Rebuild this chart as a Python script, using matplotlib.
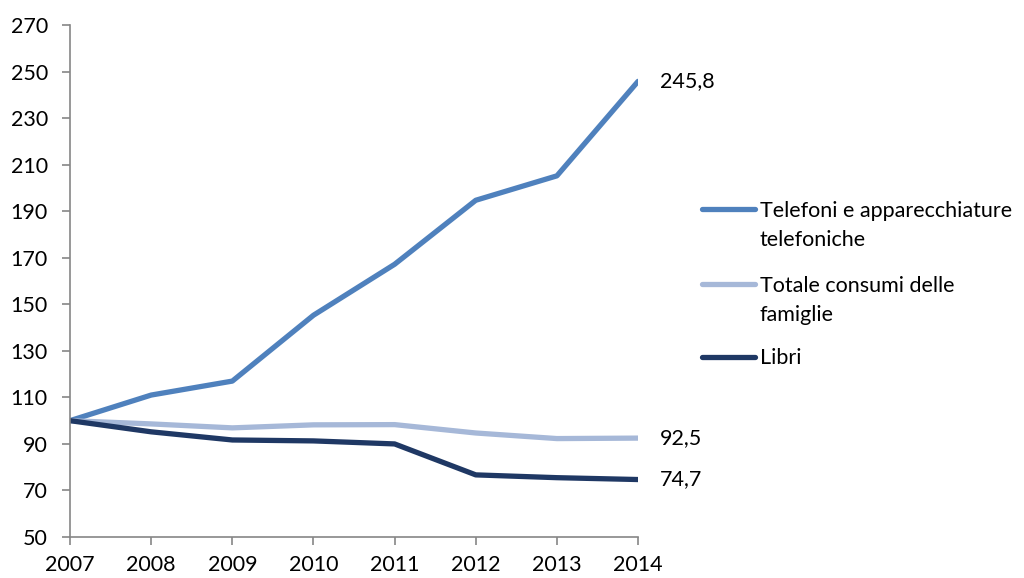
import matplotlib.pyplot as plt
from matplotlib.lines import Line2D

plt.rcParams['font.family'] = ['Lato', 'DejaVu Sans']

years = [2007, 2008, 2009, 2010, 2011, 2012, 2013, 2014]
telefoni = [100, 111, 117, 145.3, 167.2, 194.7, 205.2, 245.8]
totale = [100, 98.6, 96.9, 98.2, 98.3, 94.7, 92.3, 92.5]
libri = [100, 95.2, 91.7, 91.3, 90.0, 76.7, 75.5, 74.7]

labels = ['Telefoni e apparecchiature\ntelefoniche', 'Totale consumi delle\nfamiglie', 'Libri']
colors = ['#4F81BD', '#A6B8D8', '#1F3864']
end_labels = ['245,8', '92,5', '74,7']

fs = 15.5

fig = plt.figure(figsize=(10.24, 5.78), dpi=100)
ax = fig.add_axes([0.0684, 0.0709, 0.5547, 0.8858])

series = [telefoni, totale, libri]
for s, c in zip(series, colors):
    ax.plot(years, s, color=c, lw=3.8, solid_capstyle='round')

for s, t in zip(series, end_labels):
    ax.annotate(t, (years[-1], s[-1]), xytext=(16, 0), textcoords='offset points',
                va='center', ha='left', fontsize=fs)

ax.set_xlim(2007, 2014)
ax.set_ylim(50, 270)
ax.set_yticks(range(50, 271, 20))
ax.set_xticks(years)
for sp in ['top', 'right']:
    ax.spines[sp].set_visible(False)
for sp in ['left', 'bottom']:
    ax.spines[sp].set_color('#868686')
    ax.spines[sp].set_linewidth(1.2)
ax.tick_params(axis='both', colors='#868686', labelcolor='black', labelsize=fs, width=1.2, length=6)
ax.tick_params(axis='x', pad=7)
ax.tick_params(axis='y', pad=10)

# legend drawn by hand (Excel style: handle aligned with first text line)
leg_y = [0.638, 0.508, 0.383]
for lab, c, y in zip(labels, colors, leg_y):
    fig.add_artist(Line2D([0.686, 0.737], [y, y], color=c, lw=3.8,
                          solid_capstyle='round', transform=fig.transFigure))
    fig.text(0.742, y + 0.0145, lab, fontsize=fs, va='top', ha='left', linespacing=1.55)

fig.savefig('out.png', dpi=100)
